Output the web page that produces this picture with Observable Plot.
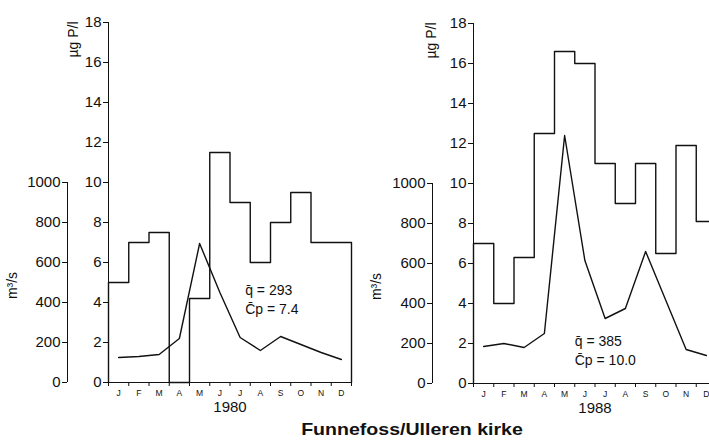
<!DOCTYPE html>
<html>
<head>
<meta charset="utf-8">
<script src="https://cdn.jsdelivr.net/npm/d3@7"></script>
<script src="https://cdn.jsdelivr.net/npm/@observablehq/plot@0.6"></script>
<style>
  html, body { margin: 0; padding: 0; background: #fff; overflow: hidden; }
  #chart { position: relative; width: 709px; height: 446px; overflow: hidden; background: #fff;
           font-family: "Liberation Sans", Arial, Helvetica, sans-serif; color: #111; }
  .panel { position: absolute; width: 360px; height: 420px; }
  .panel svg { max-width: none !important; width: 360px; height: 420px; }
  #title { position: absolute; top: 420px; left: 412px; transform: translateX(-50%) scaleX(1.15);
           font-weight: bold; font-size: 17px; white-space: nowrap; color: #111; }
</style>
</head>
<body>
<div id="chart">
  <div class="panel" id="p1" style="left:0px; top:0px;"></div>
  <div class="panel" id="p2" style="left:365px; top:1px;"></div>
  <div id="title">Funnefoss/Ulleren kirke</div>
</div>
<script>
// ---- data ----
const months = ["J", "F", "M", "A", "M", "J", "J", "A", "S", "O", "N", "D"];
const years = ["1980", "1988"];
// monthly total phosphorus concentration (µg P/l); null = no sample
const conc1980 = [5.0, 7.0, 7.5, null, 4.2, 11.5, 9.0, 6.0, 8.0, 9.5, 7.0, 7.0];
const conc1988 = [7.0, 4.0, 6.3, 12.5, 16.6, 16.0, 11.0, 9.0, 11.0, 6.5, 11.9, 8.1];
// monthly mean discharge (m³/s)
const flow1980 = [125, 130, 140, 220, 695, 450, 225, 160, 230, 190, 150, 115];
const flow1988 = [185, 200, 180, 250, 1240, 615, 325, 375, 660, 415, 170, 140];
// annual means
const meanQ = ["293", "385"];
const meanCp = ["7.4", "10.0"];
// tick values
const concTicks = [0, 2, 4, 6, 8, 10, 12, 14, 16, 18];
const flowTicks = [0, 200, 400, 600, 800, 1000];

const flowPerConc = 100; // 1000 m³/s shares the height of 10 µg P/l

function panel({year, conc, flow, q, cp, noteX, noteY, labX}) {
  const steps = [{x: 0, y: 0}];
  conc.forEach((v, i) => steps.push({x: i, y: v ?? 0}));
  steps.push({x: 12, y: conc[conc.length - 1] ?? 0});
  steps.push({x: 12, y: 0});
  const flowPts = flow.map((v, i) => ({x: i + 0.5, y: v / flowPerConc}));

  return Plot.plot({
    width: 360,
    height: 420,
    marginLeft: 108,
    marginRight: 9,
    marginTop: 22,
    marginBottom: 38,
    style: {fontFamily: '"Liberation Sans", Arial, Helvetica, sans-serif', fontSize: "15px",
            color: "#111", background: "transparent", overflow: "visible"},
    x: {domain: [0, 12]},
    y: {domain: [0, 18]},
    marks: [
      // inner (concentration) axis
      Plot.ruleX([0], {stroke: "#111", strokeWidth: 1}),
      Plot.axisY({ticks: concTicks, tickSize: 5, tickPadding: 2, label: null, stroke: "#111"}),
      Plot.text(["µg P/l"], {frameAnchor: "top-left", rotate: -90, textAnchor: "end",
        dx: labX.conc, dy: -1, fontSize: 14, fill: "#111"}),
      // outer (discharge) axis
      Plot.ruleX([0], {y1: 0, y2: 1000 / flowPerConc, dx: -41, stroke: "#111", strokeWidth: 1}),
      Plot.axisY({ticks: flowTicks.map(d => d / flowPerConc), tickFormat: d => String(Math.round(d * flowPerConc)),
        tickSize: 5, tickPadding: 2, dx: -41, label: null, stroke: "#111"}),
      Plot.text(["m³/s"], {frameAnchor: "bottom-left", rotate: -90, textAnchor: "middle",
        dx: labX.flow, dy: -97, fontSize: 14, fill: "#111"}),
      // month axis
      Plot.ruleY([0], {stroke: "#111", strokeWidth: 1}),
      Plot.axisX({ticks: d3.range(13), tickSize: 4, tickFormat: () => "", label: null, stroke: "#111"}),
      Plot.axisX({ticks: d3.range(12).map(i => i + 0.5), tickSize: 0, tickPadding: 7,
        tickFormat: d => months[Math.floor(d)], fontSize: 8.5, label: null}),
      Plot.text([year], {frameAnchor: "bottom", dy: 29, fontSize: 15, fill: "#111"}),
      // data
      Plot.line(steps, {x: "x", y: "y", curve: "step-after", stroke: "#111", strokeWidth: 1.4}),
      Plot.line(flowPts, {x: "x", y: "y", stroke: "#111", strokeWidth: 1.4}),
      // annotations
      Plot.text([`q\u0304 = ${q}`, `C\u0304p = ${cp}`], {
        x: noteX, y: (d, i) => noteY[i], textAnchor: "start", fontSize: 14, fill: "#111"})
    ]
  });
}

document.getElementById("p1").appendChild(panel({
  year: years[0], conc: conc1980, flow: flow1980, q: meanQ[0], cp: meanCp[0],
  noteX: 6.75, noteY: [4.6, 3.65], labX: {conc: -40, flow: -92}
}));
document.getElementById("p2").appendChild(panel({
  year: years[1], conc: conc1988, flow: flow1988, q: meanQ[1], cp: meanCp[1],
  noteX: 5.0, noteY: [2.1, 1.15], labX: {conc: -47, flow: -93}
}));
</script>
</body>
</html>
